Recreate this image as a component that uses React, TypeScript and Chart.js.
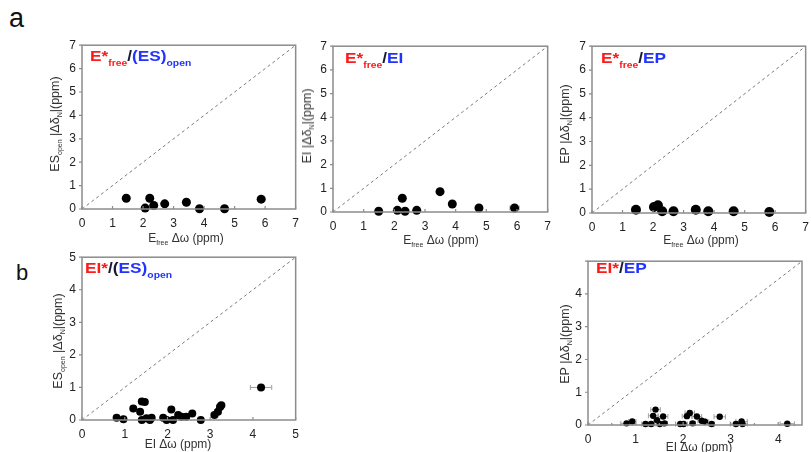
import React, { useEffect, useRef } from "react";
import { Chart, registerables } from "chart.js";
Chart.register(...registerables);

const FONT = '"Liberation Sans", Arial, Helvetica, sans-serif';
Chart.defaults.font.family = FONT;

const RED = "#ff1a1a";
const BLUE = "#2233ff";
const DARK = "#1a1a33";

// ---------- data ----------
// panel a1: E*free / (ES)open
const p1X = [1.45, 2.07, 2.22, 2.35, 2.71, 3.42, 3.85, 4.67, 5.87];
const p1Y = [0.46, 0.04, 0.46, 0.15, 0.22, 0.29, 0.01, 0.01, 0.42];
const p1Err = [0, 0, 0, 0, 0, 0, 0, 0, 0.12];
// panel a2: E*free / EI
const p2X = [1.49, 2.1, 2.26, 2.35, 2.73, 3.49, 3.89, 4.76, 5.92];
const p2Y = [0.03, 0.07, 0.58, 0.03, 0.07, 0.86, 0.34, 0.17, 0.17];
const p2Err = [0, 0, 0, 0, 0, 0, 0, 0, 0.15];
// panel a3: E*free / EP
const p3X = [1.44, 2.03, 2.16, 2.3, 2.67, 3.4, 3.81, 4.64, 5.81];
const p3Y = [0.14, 0.25, 0.32, 0.07, 0.07, 0.14, 0.07, 0.07, 0.04];
const p3Err = [0, 0, 0, 0, 0, 0, 0, 0, 0];
// panel b1: EI* / (ES)open
const p4X = [0.81, 0.97, 1.2, 1.36, 1.4, 1.47, 1.4, 1.51, 1.59, 1.63, 1.9, 1.98, 2.09, 2.13, 2.25, 2.33, 2.44, 2.58, 2.78, 3.1, 3.18, 3.23, 3.26, 4.19];
const p4Y = [0.07, 0.02, 0.35, 0.25, 0.57, 0.55, 0.0, 0.05, 0.0, 0.07, 0.07, 0.0, 0.32, 0.0, 0.15, 0.1, 0.1, 0.2, 0.0, 0.15, 0.25, 0.4, 0.45, 1.0];
const p4Err = [0, 0, 0, 0, 0, 0, 0, 0, 0, 0, 0, 0, 0, 0, 0, 0, 0, 0, 0, 0.08, 0.08, 0.08, 0.08, 0.25];
// panel b2: EI* / EP
const p5X = [0.81, 0.93, 1.21, 1.33, 1.37, 1.42, 1.45, 1.51, 1.58, 1.61, 1.94, 2.01, 2.08, 2.14, 2.2, 2.29, 2.39, 2.46, 2.6, 2.77, 3.11, 3.23, 3.25, 4.19];
const p5Y = [0.05, 0.11, 0.03, 0.03, 0.28, 0.47, 0.15, 0.03, 0.26, 0.05, 0.03, 0.03, 0.27, 0.37, 0.05, 0.26, 0.13, 0.1, 0.03, 0.25, 0.03, 0.11, 0.03, 0.04];
const p5Err = [0.12, 0.08, 0.08, 0.06, 0.1, 0.1, 0.06, 0.08, 0.1, 0.06, 0.1, 0.08, 0.1, 0.1, 0.06, 0.1, 0.08, 0.08, 0.06, 0.12, 0.12, 0.12, 0.1, 0.15];
const p5MinorX = [0.5, 1.5, 2.5, 3.5];

type Seg = { t: string; c?: string; sub?: boolean };

interface PanelCfg {
  id: string;
  area: [number, number, number, number];
  xMax: number;
  yMax: number;
  hideYMax?: boolean;
  xs: number[];
  ys: number[];
  errs: number[];
  r: number;
  minorX?: number[];
}

const panels: PanelCfg[] = [
  { id: "a1", area: [82, 42, 296, 209], xMax: 7, yMax: 7, xs: p1X, ys: p1Y, errs: p1Err, r: 4.5 },
  { id: "a2", area: [333, 43, 548, 212], xMax: 7, yMax: 7, xs: p2X, ys: p2Y, errs: p2Err, r: 4.5 },
  { id: "a3", area: [592, 43, 806, 213], xMax: 7, yMax: 7, xs: p3X, ys: p3Y, errs: p3Err, r: 5 },
  { id: "b1", area: [82, 254, 296, 420], xMax: 5, yMax: 5, xs: p4X, ys: p4Y, errs: p4Err, r: 4 },
  { id: "b2", area: [588, 258, 802, 425], xMax: 4.5, yMax: 5, hideYMax: true, xs: p5X, ys: p5Y, errs: p5Err, r: 3.2, minorX: p5MinorX },
];

const YW = 30, XH = 24, PT = 10, PR = 10;

function Panel({ cfg }: { cfg: PanelCfg }) {
  const ref = useRef<HTMLCanvasElement>(null);
  const [aL, aT, aR, aB] = cfg.area;
  const left = aL - YW, top = aT - PT;
  const width = aR - aL + YW + PR, height = aB - aT + PT + XH;

  useEffect(() => {
    const plugin = {
      id: "frame" + cfg.id,
      beforeDatasetsDraw(chart: any) {
        const ctx = chart.ctx;
        const xs = chart.scales.x, ys = chart.scales.y;
        ctx.save();
        ctx.strokeStyle = "#a0a0a0";
        ctx.lineWidth = 1;
        cfg.xs.forEach((x, i) => {
          const e = cfg.errs[i];
          if (!e) return;
          const y = ys.getPixelForValue(cfg.ys[i]);
          const x0 = xs.getPixelForValue(x - e), x1 = xs.getPixelForValue(x + e);
          ctx.beginPath();
          ctx.moveTo(x0, y); ctx.lineTo(x1, y);
          ctx.moveTo(x0, y - 2.5); ctx.lineTo(x0, y + 2.5);
          ctx.moveTo(x1, y - 2.5); ctx.lineTo(x1, y + 2.5);
          ctx.stroke();
        });
        ctx.restore();
      },
      afterDraw(chart: any) {
        const ctx = chart.ctx;
        const a = chart.chartArea;
        const xs = chart.scales.x, ys = chart.scales.y;
        ctx.save();
        ctx.strokeStyle = "#8c8c8c";
        ctx.lineWidth = 1.5;
        ctx.strokeRect(a.left, a.top, a.right - a.left, a.bottom - a.top);
        ctx.lineWidth = 1.2;
        ctx.beginPath();
        xs.ticks.forEach((t: any) => {
          const p = xs.getPixelForValue(t.value);
          ctx.moveTo(p, a.bottom); ctx.lineTo(p, a.bottom - 3);
        });
        (cfg.minorX || []).forEach((v) => {
          const p = xs.getPixelForValue(v);
          ctx.moveTo(p, a.bottom); ctx.lineTo(p, a.bottom - 2);
        });
        ys.ticks.forEach((t: any) => {
          const p = ys.getPixelForValue(t.value);
          ctx.moveTo(a.left, p); ctx.lineTo(a.left - 3, p);
        });
        ctx.stroke();
        ctx.restore();
      },
    };
    const chart = new Chart(ref.current as HTMLCanvasElement, {
      type: "scatter",
      data: {
        datasets: [
          {
            data: cfg.xs.map((x, i) => ({ x, y: cfg.ys[i] })),
            backgroundColor: "#000",
            borderColor: "#000",
            pointRadius: cfg.r,
            pointBorderWidth: 0,
            clip: false,
          } as any,
          {
            data: [{ x: 0, y: 0 }, { x: cfg.xMax, y: cfg.yMax }],
            showLine: true,
            borderColor: "#7a7a7a",
            borderWidth: 1,
            borderDash: [3, 3],
            pointRadius: 0,
            fill: false,
          } as any,
        ],
      },
      options: {
        responsive: false,
        animation: false,
        events: [],
        layout: { padding: { top: PT, right: PR, left: 0, bottom: 0 } },
        plugins: { legend: { display: false }, tooltip: { enabled: false } },
        scales: {
          x: {
            type: "linear",
            min: 0,
            max: cfg.xMax,
            afterFit(s: any) { s.height = XH; },
            grid: { display: false, drawTicks: false },
            border: { display: false },
            ticks: {
              stepSize: 1,
              includeBounds: false,
              padding: 7,
              color: "#222",
              font: { family: FONT, size: 12 },
              maxRotation: 0,
              autoSkip: false,
              callback: (v: any) => String(v),
            },
          },
          y: {
            type: "linear",
            min: 0,
            max: cfg.yMax,
            afterFit(s: any) { s.width = YW; },
            grid: { display: false, drawTicks: false },
            border: { display: false },
            ticks: {
              stepSize: 1,
              includeBounds: false,
              padding: 6,
              color: "#222",
              font: { family: FONT, size: 12 },
              autoSkip: false,
              callback: (v: any) => (cfg.hideYMax && v === cfg.yMax ? "" : String(v)),
            },
          },
        },
      } as any,
      plugins: [plugin],
    });
    return () => chart.destroy();
  }, []);

  return (
    <canvas
      ref={ref}
      width={width}
      height={height}
      style={{ position: "absolute", left, top, width, height }}
    />
  );
}

function Rich({ segs, size, subSize, subShift, color }: { segs: Seg[]; size: number; subSize: number; subShift: number; color: string }) {
  return (
    <>
      {segs.map((s, i) =>
        s.sub ? (
          <span key={i} style={{ fontSize: subSize, position: "relative", top: subShift, color: s.c || color }}>{s.t}</span>
        ) : (
          <span key={i} style={{ fontSize: size, color: s.c || color }}>{s.t}</span>
        )
      )}
    </>
  );
}

// titles inside panels
const titles: { x: number; base: number; segs: Seg[] }[] = [
  { x: 90, base: 61, segs: [{ t: "E*", c: RED }, { t: "free", c: RED, sub: true }, { t: "/", c: DARK }, { t: "(ES)", c: BLUE }, { t: "open", c: BLUE, sub: true }] },
  { x: 345, base: 63, segs: [{ t: "E*", c: RED }, { t: "free", c: RED, sub: true }, { t: "/", c: DARK }, { t: "EI", c: BLUE }] },
  { x: 601, base: 63, segs: [{ t: "E*", c: RED }, { t: "free", c: RED, sub: true }, { t: "/", c: DARK }, { t: "EP", c: BLUE }] },
  { x: 85, base: 273, segs: [{ t: "EI*", c: RED }, { t: "/(", c: DARK }, { t: "ES)", c: BLUE }, { t: "open", c: BLUE, sub: true }] },
  { x: 596, base: 273, segs: [{ t: "EI*", c: RED }, { t: "/", c: DARK }, { t: "EP", c: BLUE }] },
];

const xTitleFree: Seg[] = [{ t: "E" }, { t: "free", sub: true }, { t: " Δω (ppm)" }];
const xTitleEI: Seg[] = [{ t: "EI Δω (ppm)" }];
const yTitleES: Seg[] = [{ t: "ES" }, { t: "open", sub: true }, { t: " |Δδ" }, { t: "N", sub: true }, { t: "|(ppm)" }];
const yTitleEI: Seg[] = [{ t: "EI |Δδ" }, { t: "N", sub: true }, { t: "|(ppm)" }];
const yTitleEP: Seg[] = [{ t: "EP |Δδ" }, { t: "N", sub: true }, { t: "|(ppm)" }];

const axisTitles: { cx: number; cy: number; rot: boolean; segs: Seg[] }[] = [
  { cx: 186, cy: 238, rot: false, segs: xTitleFree },
  { cx: 441, cy: 240, rot: false, segs: xTitleFree },
  { cx: 701, cy: 240, rot: false, segs: xTitleFree },
  { cx: 178, cy: 443, rot: false, segs: xTitleEI },
  { cx: 699, cy: 446, rot: false, segs: xTitleEI },
  { cx: 55, cy: 124, rot: true, segs: yTitleES },
  { cx: 307, cy: 126, rot: true, segs: yTitleEI },
  { cx: 565, cy: 124, rot: true, segs: yTitleEP },
  { cx: 58, cy: 341, rot: true, segs: yTitleES },
  { cx: 565, cy: 344, rot: true, segs: yTitleEP },
];

export default function App() {
  return (
    <div
      style={{
        position: "absolute",
        left: 0,
        top: 0,
        width: 811,
        height: 452,
        overflow: "hidden",
        background: "#fff",
        fontFamily: FONT,
      }}
    >
      {panels.map((p) => (
        <Panel key={p.id} cfg={p} />
      ))}
      <div style={{ position: "absolute", left: 9, top: 27 - 22, fontSize: 27, lineHeight: "27px", color: "#111" }}>a</div>
      <div style={{ position: "absolute", left: 16, top: 280 - 18, fontSize: 22, lineHeight: "22px", color: "#111" }}>b</div>
      {titles.map((t, i) => (
        <div
          key={i}
          style={{
            position: "absolute",
            left: t.x,
            top: t.base - 12.7,
            lineHeight: "15px",
            fontWeight: "bold",
            whiteSpace: "nowrap",
            transform: "scaleX(1.15)",
            transformOrigin: "left center",
          }}
        >
          <Rich segs={t.segs} size={15} subSize={9} subShift={5} color={DARK} />
        </div>
      ))}
      {axisTitles.map((t, i) => (
        <div
          key={i}
          style={{
            position: "absolute",
            left: t.cx,
            top: t.cy,
            lineHeight: "13px",
            whiteSpace: "nowrap",
            transform: t.rot ? "translate(-50%,-50%) rotate(-90deg)" : "translate(-50%,-50%)",
            transformOrigin: "center center",
          }}
        >
          <Rich segs={t.segs} size={t.rot ? 12.5 : 12} subSize={7} subShift={3} color="#333" />
        </div>
      ))}
    </div>
  );
}
